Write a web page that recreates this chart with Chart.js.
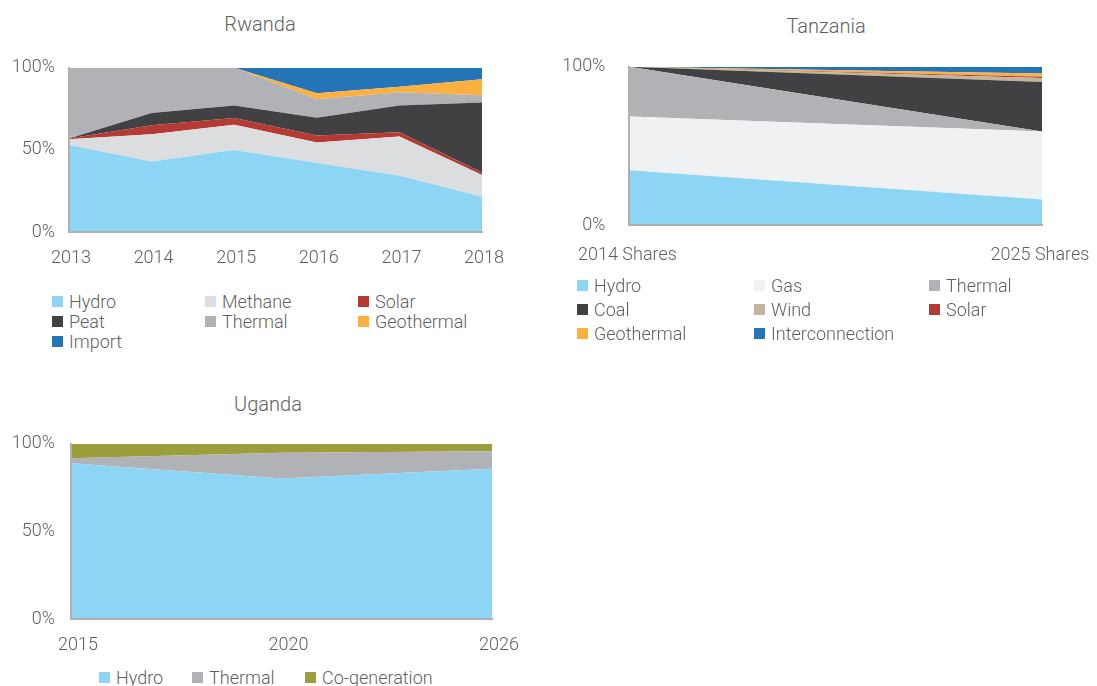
<!DOCTYPE html>
<html>
<head>
<meta charset="utf-8">
<script src="https://cdn.jsdelivr.net/npm/chart.js@4.4.0/dist/chart.umd.min.js"></script>
<style>
  body { margin: 0; width: 1097px; height: 686px; background: #fff; overflow: hidden; position: relative;
         font-family: Roboto, "Noto Sans", sans-serif; font-weight: 300; color: #5f5f5f; }
  .panel { position: absolute; }
  .panel canvas { display: block; }
  .title { position: absolute; font-size: 20px; transform: translate(-50%, -50%); white-space: nowrap; }
  .legend { position: absolute; display: grid; font-size: 18px; }
  .item { display: flex; align-items: center; white-space: nowrap; }
  .swatch { width: 11px; height: 11px; margin-right: 6px; flex: none; }
</style>
</head>
<body>
<div class="title" style="left:260px;top:24px">Rwanda</div>
<div class="title" style="left:826px;top:26px">Tanzania</div>
<div class="title" style="left:268px;top:404px">Uganda</div>

<div class="panel" style="left:0;top:43px"><canvas id="rwanda" width="520" height="227"></canvas></div>
<div class="panel" style="left:560px;top:32px"><canvas id="tanzania" width="557" height="243"></canvas></div>
<div class="panel" style="left:0;top:417px"><canvas id="uganda" width="530" height="248"></canvas></div>

<div class="legend" id="rwandaLegend"></div>
<div class="legend" id="tanzaniaLegend"></div>
<div class="legend" id="ugandaLegend"></div>

<script>
// Rwanda: generation mix shares (%)
const rwandaYears = ['2013', '2014', '2015', '2016', '2017', '2018'];
const rwandaHydro = [53, 43, 50, 42, 34.3, 21.4];
const rwandaMethane = [3.5, 16.5, 15.3, 12.5, 23.9, 13.3];
const rwandaSolar = [0.5, 5.5, 4.1, 4.3, 2.6, 1.6];
const rwandaPeat = [0, 7.5, 7.7, 10.8, 16.3, 42.5];
const rwandaThermal = [43, 27.5, 22.9, 11.2, 8, 4.5];
const rwandaGeothermal = [0, 0, 0, 3.7, 3.3, 9.8];
const rwandaImport = [0, 0, 0, 15.5, 11.6, 6.9];

// Tanzania: shares in 2014 and planned for 2025 (%)
const tanzaniaPeriods = ['2014 Shares', '2025 Shares'];
const tanzaniaHydro = [34.6, 16.1];
const tanzaniaGas = [34, 43];
const tanzaniaThermal = [31.4, 0];
const tanzaniaCoal = [0, 31.3];
const tanzaniaWind = [0, 2.5];
const tanzaniaSolar = [0, 0.8];
const tanzaniaGeothermal = [0, 2.1];
const tanzaniaInterconnection = [0, 4.2];

// Uganda: generation mix shares (%)
const ugandaYears = ['2015', '2020', '2026'];
const ugandaHydro = [88.9, 80.2, 85.8];
const ugandaThermal = [2.8, 14.7, 10];
const ugandaCogeneration = [8.3, 5.1, 4.2];

const COLORS = {
  hydro: '#8dd5f5',
  methane: '#dcdddf',
  gas: '#f0f1f3',
  solar: '#b43a33',
  dark: '#414143',
  thermal: '#b1b2b5',
  geothermal: '#fbb040',
  blue: '#2474b8',
  wind: '#c3b59c',
  cogen: '#9a9f3b'
};
const TEXT = '#5f5f5f';
const AXIS = '#b0b0b0';
const FONT = { family: 'Roboto', size: 18, weight: '300' };

function stackedArea(id, labels, series, cfg) {
  const datasets = series.map((s, i) => ({
    label: s.label,
    data: s.data,
    backgroundColor: s.color,
    borderColor: s.color,
    borderWidth: 0,
    pointRadius: 0,
    tension: 0,
    fill: i === 0 ? 'origin' : '-1'
  }));
  return new Chart(document.getElementById(id), {
    type: 'line',
    data: { labels, datasets },
    options: {
      responsive: false,
      devicePixelRatio: 1,
      animation: false,
      layout: { padding: cfg.padding },
      plugins: { legend: { display: false }, tooltip: { enabled: false }, title: { display: false } },
      scales: {
        x: {
          offset: false,
          grid: { display: false, drawTicks: false },
          border: { display: true, color: AXIS, width: 2, z: 1 },
          ticks: { color: TEXT, font: FONT, padding: cfg.xPad, labelOffset: cfg.labelOffset,
                   maxRotation: 0, autoSkip: false },
          afterFit: s => { s.height = cfg.xH; }
        },
        y: {
          stacked: true, min: 0, max: 100,
          grid: { display: false, drawTicks: false },
          border: { display: true, color: AXIS, width: 2, z: 1 },
          ticks: { color: TEXT, font: FONT, padding: cfg.yPad, stepSize: cfg.step,
                   callback: v => v + '%' },
          afterFit: s => { s.width = cfg.yW; }
        }
      }
    }
  });
}

function htmlLegend(chart, id, pos) {
  const el = document.getElementById(id);
  el.style.left = pos.left + 'px';
  el.style.top = pos.top + 'px';
  el.style.gridTemplateColumns = pos.columns.map(c => c + 'px').join(' ');
  el.style.gridAutoRows = pos.row + 'px';
  chart.data.datasets.forEach(ds => {
    const item = document.createElement('div');
    item.className = 'item';
    const sw = document.createElement('span');
    sw.className = 'swatch';
    sw.style.background = ds.backgroundColor;
    const tx = document.createElement('span');
    tx.textContent = ds.label;
    item.appendChild(sw);
    item.appendChild(tx);
    el.appendChild(item);
  });
}

const rwanda = stackedArea('rwanda', rwandaYears, [
  { label: 'Hydro', data: rwandaHydro, color: COLORS.hydro },
  { label: 'Methane', data: rwandaMethane, color: COLORS.methane },
  { label: 'Solar', data: rwandaSolar, color: COLORS.solar },
  { label: 'Peat', data: rwandaPeat, color: COLORS.dark },
  { label: 'Thermal', data: rwandaThermal, color: COLORS.thermal },
  { label: 'Geothermal', data: rwandaGeothermal, color: COLORS.geothermal },
  { label: 'Import', data: rwandaImport, color: COLORS.blue }
], { padding: { left: 0, top: 18, right: 38, bottom: 0 }, yW: 69, xH: 38, xPad: 16, yPad: 14,
     labelOffset: 2, step: 50 });

const tanzania = stackedArea('tanzania', tanzaniaPeriods, [
  { label: 'Hydro', data: tanzaniaHydro, color: COLORS.hydro },
  { label: 'Gas', data: tanzaniaGas, color: COLORS.gas },
  { label: 'Thermal', data: tanzaniaThermal, color: COLORS.thermal },
  { label: 'Coal', data: tanzaniaCoal, color: COLORS.dark },
  { label: 'Wind', data: tanzaniaWind, color: COLORS.wind },
  { label: 'Solar', data: tanzaniaSolar, color: COLORS.solar },
  { label: 'Geothermal', data: tanzaniaGeothermal, color: COLORS.geothermal },
  { label: 'Interconnection', data: tanzaniaInterconnection, color: COLORS.blue }
], { padding: { left: 0, top: 26, right: 75, bottom: 0 }, yW: 67, xH: 50, xPad: 20, yPad: 24,
     labelOffset: -2, step: 100 });

const uganda = stackedArea('uganda', ugandaYears, [
  { label: 'Hydro', data: ugandaHydro, color: COLORS.hydro },
  { label: 'Thermal', data: ugandaThermal, color: COLORS.thermal },
  { label: 'Co-generation', data: ugandaCogeneration, color: COLORS.cogen }
], { padding: { left: 0, top: 18, right: 38, bottom: 0 }, yW: 71, xH: 46, xPad: 16, yPad: 16,
     labelOffset: 7, step: 50 });

htmlLegend(rwanda, 'rwandaLegend', { left: 52, top: 291, columns: [153, 153, 153], row: 20 });
htmlLegend(tanzania, 'tanzaniaLegend', { left: 577, top: 273, columns: [177, 175, 150], row: 24 });
htmlLegend(uganda, 'ugandaLegend', { left: 99, top: 667, columns: [93, 113, 160], row: 20 });
</script>
</body>
</html>
